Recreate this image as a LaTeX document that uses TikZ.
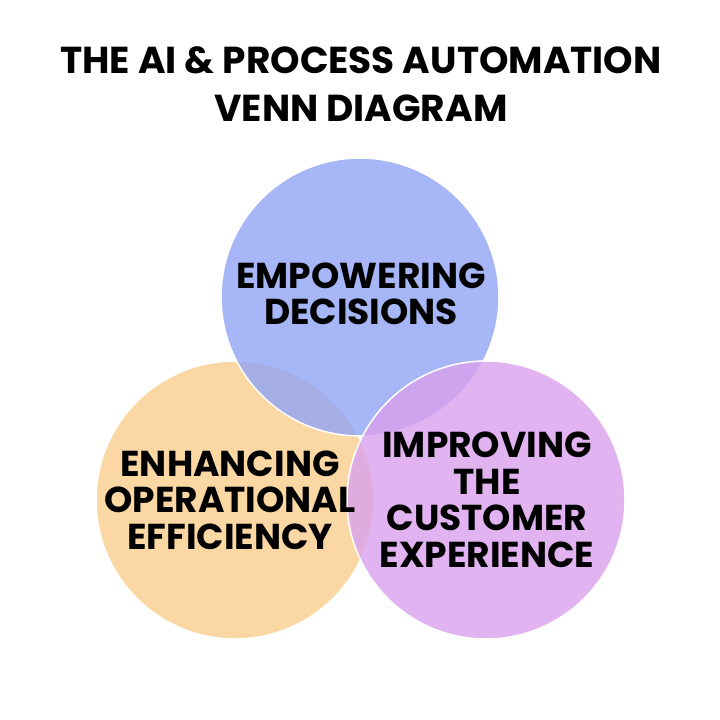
\documentclass[tikz,border=0pt]{standalone}
\usepackage{fontspec}
\setmainfont{Poppins}[BoldFont={* Bold}]
\begin{document}
\begin{tikzpicture}[x=1pt,y=-1pt,
  circ/.style={circle,minimum size=278pt,draw=white,line width=1.5pt,fill opacity=0.8,text opacity=1},
  lbl/.style={font=\bfseries\fontsize{36}{36.5}\selectfont,align=center,text=black}]
\useasboundingbox[fill=white] (0,0) rectangle (720,720);
\node[circ,fill={rgb,255:red,250;green,205;blue,140}] (L) at (235,500) {};
\node[circ,fill={rgb,255:red,144;green,164;blue,246}] (T) at (360,297) {};
\node[circ,fill={rgb,255:red,218;green,160;blue,238}] (R) at (486,500) {};
\node[lbl] (tl) at (361,294) {EMPOWERING\\DECISIONS};
\node[lbl] (ll) at (230,500) {ENHANCING\\OPERATIONAL\\EFFICIENCY};
\node[lbl] (rl) at (487,500) {IMPROVING\\THE\\CUSTOMER\\EXPERIENCE};
\node[font=\bfseries\fontsize{37.5}{48}\selectfont,align=center] (title) at (361,84) {THE AI \& PROCESS AUTOMATION\\VENN DIAGRAM};
\end{tikzpicture}
\end{document}
